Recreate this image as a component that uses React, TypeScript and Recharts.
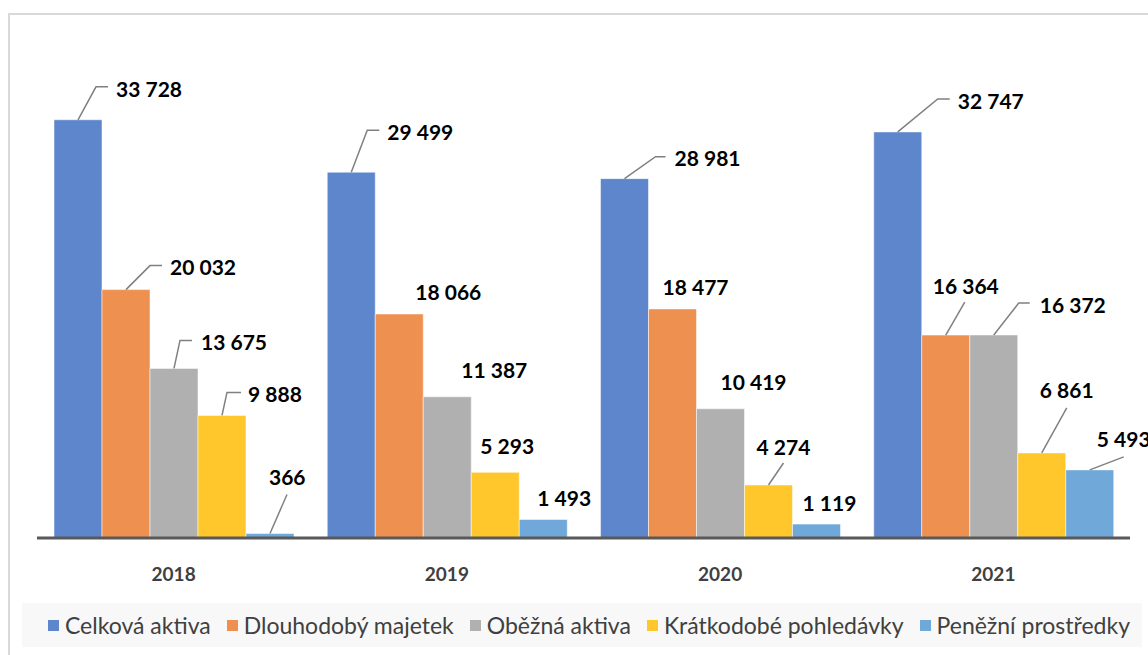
import { BarChart, Bar, XAxis, YAxis, LabelList, Legend } from 'recharts';

const categories = ['2018', '2019', '2020', '2021'];
const celkovaAktiva = [33728, 29499, 28981, 32747];
const dlouhodobyMajetek = [20032, 18066, 18477, 16364];
const obeznaAktiva = [13675, 11387, 10419, 16372];
const kratkodobePohledavky = [9888, 5293, 4274, 6861];
const penezniProstredky = [366, 1493, 1119, 5493];

const seriesNames = ['Celková aktiva', 'Dlouhodobý majetek', 'Oběžná aktiva', 'Krátkodobé pohledávky', 'Peněžní prostředky'];
const seriesValues = [celkovaAktiva, dlouhodobyMajetek, obeznaAktiva, kratkodobePohledavky, penezniProstredky];
const colors = ['#5e86cc', '#ee9050', '#b0b0b0', '#ffc72c', '#70a8da'];

const chartData = categories.map((year, i) => {
  const row: Record<string, string | number> = { year };
  seriesValues.forEach((vals, s) => { row['s' + s] = vals[i]; });
  return row;
});

// label placement relative to top centre of bar: [dx (text left), dy (text middle), leader points...]
type LabelPos = { dx: number; dy: number; leader?: number[][] };
const labelPos: LabelPos[][] = [
  [
    { dx: 38, dy: -31, leader: [[18, -33], [30, -33]] },
    { dx: 36, dy: -41, leader: [[16, -42], [28, -42]] },
    { dx: 50, dy: -21, leader: [[31, -22], [41, -22]] },
    { dx: 60, dy: -31, leader: [[40, -33], [52, -33]] },
  ],
  [
    { dx: 44, dy: -23, leader: [[24, -24], [36, -24]] },
    { dx: 16, dy: -22 },
    { dx: -10, dy: -22 },
    { dx: -13, dy: -50, leader: [[19, -33]] },
  ],
  [
    { dx: 27, dy: -27, leader: [[6, -28], [18, -28]] },
    { dx: 14, dy: -27 },
    { dx: 0, dy: -27 },
    { dx: 46, dy: -30, leader: [[25, -32], [36, -32]] },
  ],
  [
    { dx: 26, dy: -22, leader: [[5, -23], [19, -23]] },
    { dx: -15, dy: -27 },
    { dx: -12, dy: -39, leader: [[15, -22]] },
    { dx: -2, dy: -63, leader: [[25, -45]] },
  ],
  [
    { dx: -1, dy: -57, leader: [[17, -39]] },
    { dx: -6, dy: -22 },
    { dx: -14, dy: -22 },
    { dx: 7, dy: -31, leader: [[34, -13]] },
  ],
];

const fmt = (v: number) => String(v).replace(/\B(?=(\d{3})+(?!\d))/g, ' ');

const FONT = 'Lato, "Noto Sans", sans-serif';

const makeLabel = (s: number) => (props: any) => {
  const { x, y, width, value, index } = props;
  const pos = labelPos[s][index];
  if (!pos) return null;
  const cx = Number(x) + Number(width) / 2;
  const top = Number(y);
  const pts = pos.leader ? [[0, 0], ...pos.leader].map(p => `${cx + p[0]},${top + p[1]}`).join(' ') : null;
  return (
    <g>
      {pts && <polyline points={pts} fill="none" stroke="#808080" strokeWidth={1.5} />}
      <text x={cx + pos.dx} y={top + pos.dy} dominantBaseline="central" fontFamily={FONT}
        fontWeight={700} fontSize={21} fill="#000">
        {fmt(Number(value))}
      </text>
    </g>
  );
};

const renderTick = (props: any) => {
  const { x, y, payload } = props;
  return (
    <text x={x} y={y + 35} textAnchor="middle" dominantBaseline="central" fontFamily={FONT}
      fontWeight={700} fontSize={19} fill="#404040">
      {payload.value}
    </text>
  );
};

const renderLegend = () => (
  <div style={{
    background: '#f8f8f8', height: 44, display: 'flex', alignItems: 'center', justifyContent: 'center',
    gap: 16, fontFamily: FONT, fontSize: 23, color: '#404040', paddingLeft: 14,
  }}>
    {seriesNames.map((n, i) => (
      <div key={n} style={{ display: 'flex', alignItems: 'center', gap: 6 }}>
        <span style={{ width: 11, height: 11, background: colors[i], display: 'inline-block' }} />
        <span>{n}</span>
      </div>
    ))}
  </div>
);

export default function App() {
  return (
    <div style={{ position: 'relative', width: 1148, height: 655, overflow: 'hidden', background: '#fff' }}>
      <style>{'body{margin:0;overflow:hidden}'}</style>
      <div style={{
        position: 'absolute', left: 8, top: 13, width: 1148, height: 655,
        borderLeft: '2px solid #d9d9d9', borderTop: '2px solid #d9d9d9',
      }} />
      <div style={{ position: 'absolute', left: 0, top: 0 }}>
        <BarChart width={1148} height={655} data={chartData} barGap={0}
          margin={{ top: 42, right: 18, left: 37, bottom: 33 }}>
          <XAxis dataKey="year" axisLine={{ stroke: '#595959', strokeWidth: 3 }} tickLine={false}
            tickSize={0} tickMargin={0} height={40} tick={renderTick} interval={0} />
          <YAxis hide domain={[0, 40000]} />
          <Legend content={renderLegend} verticalAlign="bottom"
            wrapperStyle={{ left: 22, width: 1120, bottom: 8 }} />
          {seriesNames.map((n, s) => (
            <Bar key={n} dataKey={'s' + s} name={n} fill={colors[s]} barSize={48}
              stroke="#ffffff" strokeOpacity={0.5} strokeWidth={1} isAnimationActive={false}>
              <LabelList dataKey={'s' + s} content={makeLabel(s)} />
            </Bar>
          ))}
        </BarChart>
      </div>
    </div>
  );
}
